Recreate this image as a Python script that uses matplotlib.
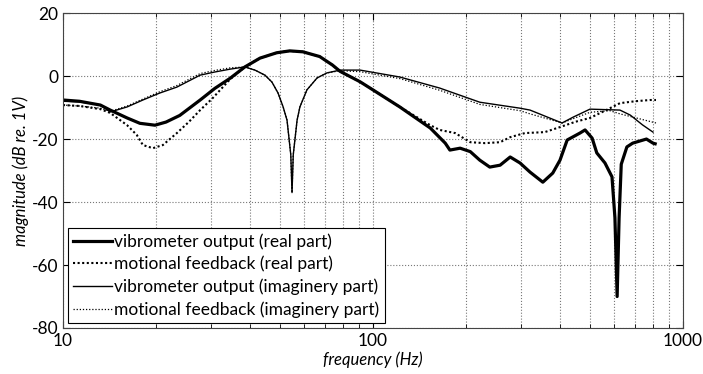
import matplotlib
matplotlib.use('Agg')
import matplotlib.pyplot as plt
from matplotlib.ticker import LogLocator, NullFormatter, FixedLocator

plt.rcParams['font.family'] = ['Lato', 'DejaVu Sans']
plt.rcParams['axes.unicode_minus'] = False

# vibrometer output, real part (thick solid)
vib_re_f = [10, 11.3, 13.2, 14.2, 16.1, 17.7, 19.8, 21.5, 23.8, 27.7,
            30.9, 34.6, 38.6, 43.2, 48.9, 53.9, 59.4, 67.3, 74, 78.3,
            90.8, 97.8, 122, 153, 171, 177, 191, 206, 221, 238,
            257, 277, 298, 321, 353, 380, 401, 423, 465, 483,
            509, 527, 560, 590, 603, 613, 622, 632, 659, 688,
            762, 800, 813]
vib_re_db = [-7.6, -8, -9.2, -10.8, -13.3, -15, -15.6, -14.6, -12.5, -7.6,
             -3.9, -0.7, 2.9, 5.7, 7.4, 8, 7.7, 6.2, 3.5, 1.5,
             -1.8, -3.8, -9.8, -16.5, -21.3, -23.5, -22.9, -24, -26.7, -28.9,
             -28.3, -25.7, -27.6, -30.5, -33.7, -30.8, -26.7, -20.3, -18.1, -17.1,
             -19.7, -24.4, -27.6, -32, -45, -70, -45, -28, -22.5, -21.3,
             -20, -21.3, -21.5]

# motional feedback, real part (thick dotted)
mf_re_f = [10, 11.3, 13.2, 14.2, 16.1, 17.3, 18.1, 19.5, 21.0, 23.3,
           25.5, 27.7, 30.4, 34.6, 38.6, 43.2, 48.9, 53.9, 59.4, 67.3,
           74, 78.3, 90.8, 97.8, 122, 153, 164, 184, 206, 230,
           257, 277, 309, 358, 401, 450, 501, 560, 626, 700,
           783, 818]
mf_re_db = [-9.2, -9.5, -10.5, -11.7, -15.6, -18.7, -21.9, -22.9, -21.9, -18.1,
            -14.5, -10.8, -7.0, -1.0, 2.9, 5.7, 7.4, 8, 7.7, 6.2,
            3.5, 1.5, -1.8, -3.8, -9.8, -15.6, -17.1, -18.1, -21, -21.3,
            -21, -19.4, -18.1, -17.8, -16.2, -14.5, -13.3, -11, -8.6, -8.0,
            -7.6, -7.6]

# vibrometer output, imaginary part (thin solid)
vib_im_f = [10, 11.3, 13.2, 14.2, 16.1, 18.1, 20.5, 23.3, 27.7, 30.9,
            34.6, 38.6, 41.6, 44.8, 47.2, 49.4, 51.3, 52.8, 54.3, 54.8,
            55.3, 56.9, 58.1, 61.2, 66, 71, 78.3, 90.8, 122, 164,
            221, 298, 321, 407, 443, 501, 626, 676, 740, 800]
vib_im_db = [-8, -8.2, -9.2, -11.4, -9.8, -7.6, -5.4, -3.5, 0.3, 1.3,
             2.2, 2.9, 1.9, 0.3, -1.9, -5.4, -9.8, -14, -25, -37,
             -25, -14, -9.8, -4.4, -0.6, 1, 1.9, 1.9, -0.3, -3.8,
             -8.3, -10.2, -10.8, -14.9, -13, -10.5, -10.8, -12.4, -15.5, -17.8]

# motional feedback, imaginary part (thin dotted)
mf_im_f = [10, 11.3, 13.2, 14.2, 16.1, 18.1, 20.5, 23.3, 27.7, 30.9,
           34.6, 38.6, 41.6, 44.8, 47.2, 49.4, 51.3, 52.8, 54.3, 54.8,
           55.3, 56.9, 58.1, 61.2, 66, 71, 78.3, 90.8, 122, 164,
           221, 298, 321, 407, 443, 501, 581, 626, 700, 818]
mf_im_db = [-9.2, -9.5, -10.2, -11.2, -9.5, -7.3, -5.0, -3.0, 0.8, 1.8,
            2.6, 2.9, 1.9, 0.3, -1.9, -5.4, -9.8, -14, -25, -37,
            -25, -14, -9.8, -4.4, -0.6, 1, 1.7, 1.4, -0.8, -4.5,
            -9.0, -11.0, -12.0, -14.9, -13.5, -11.5, -11.0, -12.0, -13.2, -14.9]

fig = plt.figure(figsize=(7.03, 3.74), dpi=100)
ax = fig.add_axes([0.0896, 0.123, 0.882, 0.842])

ax.plot(vib_re_f, vib_re_db, color='black', lw=2.3, label='vibrometer output (real part)')
ax.plot(mf_re_f, mf_re_db, color='black', lw=1.5, ls=(0, (1, 1.2)), label='motional feedback (real part)')
ax.plot(vib_im_f, vib_im_db, color='black', lw=1.0, label='vibrometer output (imaginery part)')
ax.plot(mf_im_f, mf_im_db, color='black', lw=0.9, ls=(0, (1, 1.5)), label='motional feedback (imaginery part)')

ax.set_xscale('log')
ax.set_xlim(10, 1000)
ax.set_ylim(-80, 20)
ax.set_yticks([-80, -60, -40, -20, 0, 20])
ax.xaxis.set_major_locator(FixedLocator([10, 100, 1000]))
ax.xaxis.set_minor_locator(LogLocator(base=10, subs=range(2, 10)))
ax.xaxis.set_minor_formatter(NullFormatter())
ax.set_xticklabels(['10', '100', '1000'])

ax.tick_params(which='both', direction='in', top=True, right=True, labelsize=12.5)
ax.tick_params(which='major', length=5)
ax.tick_params(which='minor', length=3)
ax.grid(True, which='both', axis='x', color='#777777', ls=':', lw=0.8)
ax.grid(True, which='major', axis='y', color='#777777', ls=':', lw=0.8)
for s in ax.spines.values():
    s.set_linewidth(0.8)
    s.set_color('#444444')

ax.set_xlabel('frequency (Hz)', fontstyle='italic', fontsize=12, labelpad=2)
ax.set_ylabel('magnitude (dB re. 1V)', fontstyle='italic', fontsize=12, labelpad=2)

leg = ax.legend(loc='lower left', fontsize=12.5, fancybox=False, edgecolor='black',
                framealpha=1, handlelength=2.2, handletextpad=0.15, labelspacing=0.35,
                borderaxespad=0.3, borderpad=0.3)
leg.get_frame().set_linewidth(0.8)

fig.savefig('out.png', dpi=100)
